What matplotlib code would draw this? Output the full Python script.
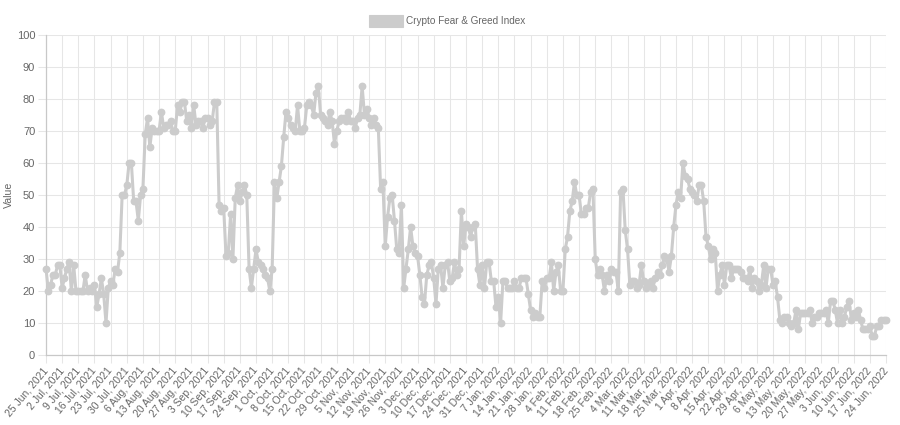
import matplotlib
matplotlib.use('Agg')
import matplotlib.pyplot as plt
import numpy as np
import pandas as pd
from matplotlib.patches import Rectangle

start_date = '2021-06-25'
series_label = 'Crypto Fear & Greed Index'
y_label = 'Value'
tick_step = 7

values = [
    27, 20, 22, 25, 25, 28, 28, 21, 24, 27,
    29, 20, 28, 20, 20, 20, 20, 25, 20, 21,
    20, 22, 15, 19, 24, 19, 10, 21, 23, 22,
    27, 26, 32, 50, 50, 53, 60, 60, 48, 48,
    42, 50, 52, 69, 74, 65, 71, 70, 70, 70,
    76, 71, 72, 72, 73, 70, 70, 78, 76, 79,
    79, 73, 75, 71, 78, 72, 73, 73, 71, 74,
    74, 72, 73, 79, 79, 47, 45, 46, 31, 32,
    44, 30, 49, 53, 48, 51, 53, 50, 27, 21,
    27, 33, 29, 28, 27, 25, 24, 20, 27, 54,
    49, 54, 59, 68, 76, 74, 72, 71, 70, 78,
    70, 70, 71, 78, 79, 78, 75, 82, 84, 75,
    74, 73, 72, 76, 73, 66, 70, 73, 74, 74,
    73, 76, 73, 73, 71, 74, 75, 84, 75, 77,
    74, 72, 74, 72, 71, 52, 54, 34, 43, 49,
    50, 42, 33, 32, 47, 21, 27, 33, 40, 34,
    32, 31, 25, 18, 16, 25, 28, 29, 24, 16,
    27, 28, 21, 28, 29, 23, 24, 29, 25, 27,
    45, 34, 41, 40, 37, 40, 41, 27, 22, 28,
    21, 29, 29, 23, 23, 15, 18, 10, 23, 23,
    21, 21, 21, 23, 21, 21, 24, 24, 24, 19,
    14, 12, 13, 12, 12, 23, 21, 24, 24, 29,
    20, 26, 28, 20, 20, 33, 37, 45, 48, 54,
    50, 50, 44, 44, 46, 46, 51, 52, 30, 25,
    27, 25, 20, 25, 23, 27, 26, 26, 20, 51,
    52, 39, 33, 22, 23, 23, 21, 22, 28, 23,
    21, 22, 23, 21, 24, 26, 25, 28, 31, 30,
    26, 31, 40, 47, 51, 49, 60, 56, 55, 52,
    51, 50, 48, 53, 53, 48, 37, 34, 30, 33,
    32, 20, 25, 28, 22, 28, 28, 24, 27, 27,
    27, 26, 24, 24, 23, 27, 21, 24, 23, 20,
    22, 28, 21, 27, 27, 22, 23, 18, 11, 10,
    12, 12, 10, 9, 10, 14, 8, 13, 13, 13,
    13, 14, 10, 12, 12, 13, 13, 13, 14, 10,
    17, 17, 14, 10, 14, 10, 12, 15, 17, 11,
    13, 12, 14, 11, 8, 8, 8, 9, 6, 6,
    9, 9, 11, 11, 11,
]

dates = pd.date_range(start_date, periods=len(values), freq='D')
labels = [f"{d.day} {d.strftime('%b')}, {d.year}" for d in dates]

plt.rcParams['font.family'] = ['Liberation Sans', 'DejaVu Sans']
W, H = 900, 425
fig = plt.figure(figsize=(W / 100, H / 100), dpi=100)
ax = fig.add_axes([46 / W, 1 - 355 / H, 840 / W, 320 / H])

x = np.arange(len(values))
line_col = '#cccccc'
ax.plot(x, values, color=line_col, lw=2.2, marker='o', ms=4.6,
        mfc=line_col, mec=line_col, zorder=3, clip_on=False)

ax.set_xlim(0, len(values) - 1)
ax.set_ylim(0, 100)
ax.set_yticks(range(0, 101, 10))
ticks = x[::tick_step]
ax.set_xticks(ticks)
ax.set_xticklabels([labels[i] for i in ticks], rotation=50, ha='right',
                   va='center', rotation_mode='anchor')

grid_col = '#e6e6e6'
ax.grid(True, color=grid_col, lw=0.75, zorder=0)
ax.set_axisbelow(True)
for s in ['top', 'right']:
    ax.spines[s].set_visible(False)
for s in ['left', 'bottom']:
    ax.spines[s].set_color('#c8c8c8')
    ax.spines[s].set_linewidth(0.9)
ax.tick_params(axis='both', length=5.8, width=0.75, color=grid_col,
               labelcolor='#666666', pad=2)
ax.tick_params(axis='y', labelsize=8.0)
ax.tick_params(axis='x', labelsize=7.5, pad=4)

# legend (Chart.js style)
fig.patches.append(Rectangle((369 / W, 1 - 27 / H), 34 / W, 12 / H,
                             transform=fig.transFigure, facecolor=line_col,
                             edgecolor=line_col, lw=0.8))
fig.text(406 / W, 1 - 21 / H, series_label, ha='left', va='center',
         fontsize=7.2, color='#666666')

fig.text(9 / W, 1 - 195 / H, y_label, rotation=90, ha='center', va='center',
         fontsize=7.6, color='#666666')

fig.savefig('out.png', dpi=100, facecolor='white')
